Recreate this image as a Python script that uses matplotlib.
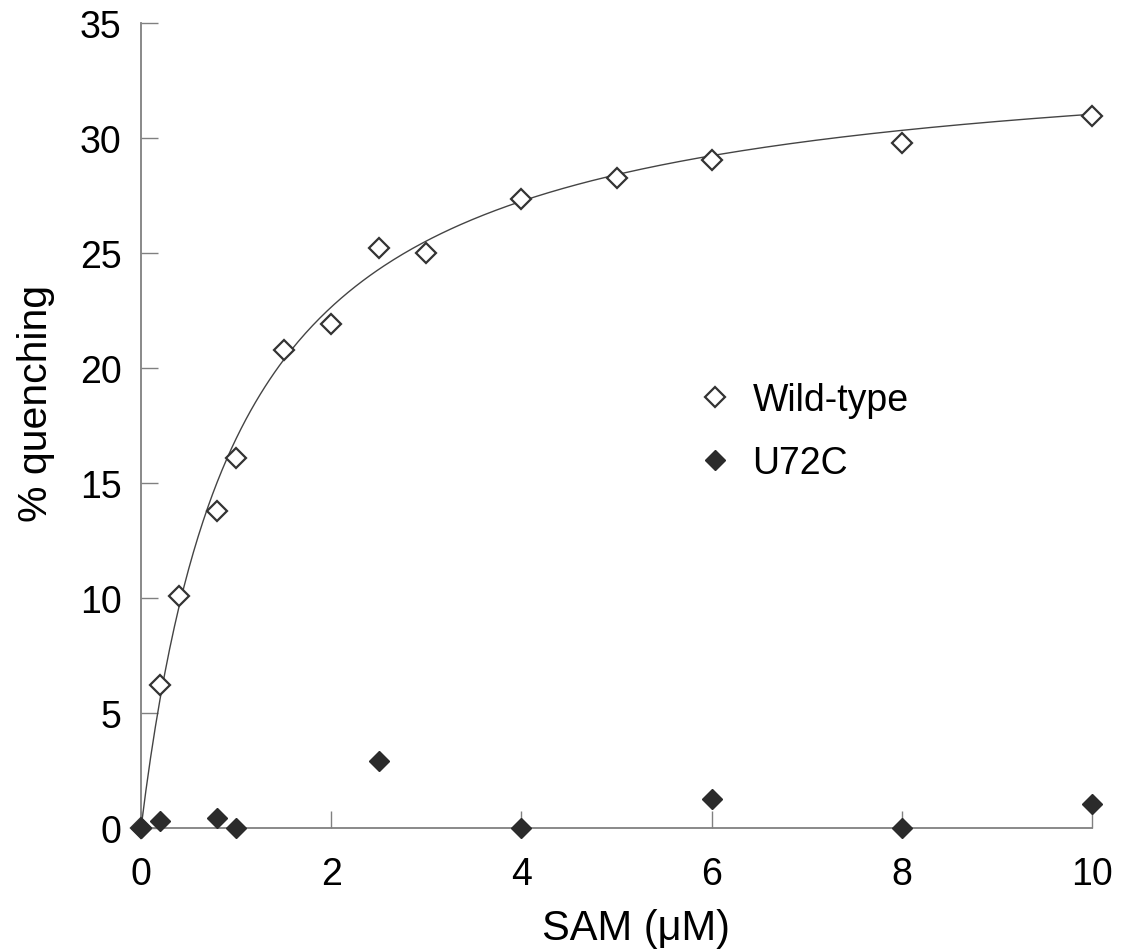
import numpy as np
import matplotlib
matplotlib.use('Agg')
import matplotlib.pyplot as plt

plt.rcParams['font.family'] = ['Liberation Sans', 'DejaVu Sans']

# SAM concentration (uM) and % quenching
wt_x = [0, 0.2, 0.4, 0.8, 1.0, 1.5, 2.0, 2.5, 3.0, 4.0, 5.0, 6.0, 8.0, 10.0]
wt_y = [0, 6.2, 10.1, 13.8, 16.1, 20.8, 21.9, 25.2, 25.0, 27.35, 28.25, 29.05, 29.8, 30.95]

mut_x = [0, 0.2, 0.8, 1.0, 2.5, 4.0, 6.0, 8.0, 10.0]
mut_y = [0, 0.3, 0.45, 0, 2.9, 0, 1.25, 0, 1.05]

# single-site binding fit drawn through the wild-type data
bmax = 34.2
kd = 1.02

x_ticks = [0, 2, 4, 6, 8, 10]
y_ticks = [0, 5, 10, 15, 20, 25, 30, 35]

fig = plt.figure(figsize=(11.23, 9.53), dpi=100)
ax = fig.add_axes([0.1256, 0.1301, 0.8468, 0.8447])

xfit = np.linspace(0, 10, 400)
ax.plot(xfit, bmax * xfit / (kd + xfit), color='#444444', lw=1.0, zorder=2)

ax.plot(wt_x, wt_y, ls='none', marker='D', ms=10.5, mfc='white', mec='#333333',
        mew=1.6, label='Wild-type', zorder=3, clip_on=False)
ax.plot(mut_x, mut_y, ls='none', marker='D', ms=10.5, mfc='#2b2b2b', mec='#2b2b2b',
        mew=1, label='U72C', zorder=4, clip_on=False)

ax.set_xlim(0, 10)
ax.set_ylim(0, 35)
ax.set_xticks(x_ticks)
ax.set_yticks(y_ticks)

for s in ['top', 'right']:
    ax.spines[s].set_visible(False)
for s in ['left', 'bottom']:
    ax.spines[s].set_color('#808080')
    ax.spines[s].set_linewidth(1.3)

ax.tick_params(axis='both', direction='in', length=12, width=1.0, color='#808080',
               labelsize=27)
ax.tick_params(axis='y', pad=14)
ax.tick_params(axis='x', pad=20)

ax.set_xlabel('SAM (μM)', fontsize=30)
ax.set_ylabel('% quenching', fontsize=29.5)
ax.xaxis.set_label_coords(0.5205, -0.099)
ax.yaxis.set_label_coords(-0.09, 0.529)

ax.legend(loc='center left', bbox_to_anchor=(0.5837, 0.493), frameon=False, fontsize=27,
          handlelength=1.0, handletextpad=0.5, labelspacing=0.72, borderpad=0,
          borderaxespad=0)

fig.savefig('out.png', dpi=100)
